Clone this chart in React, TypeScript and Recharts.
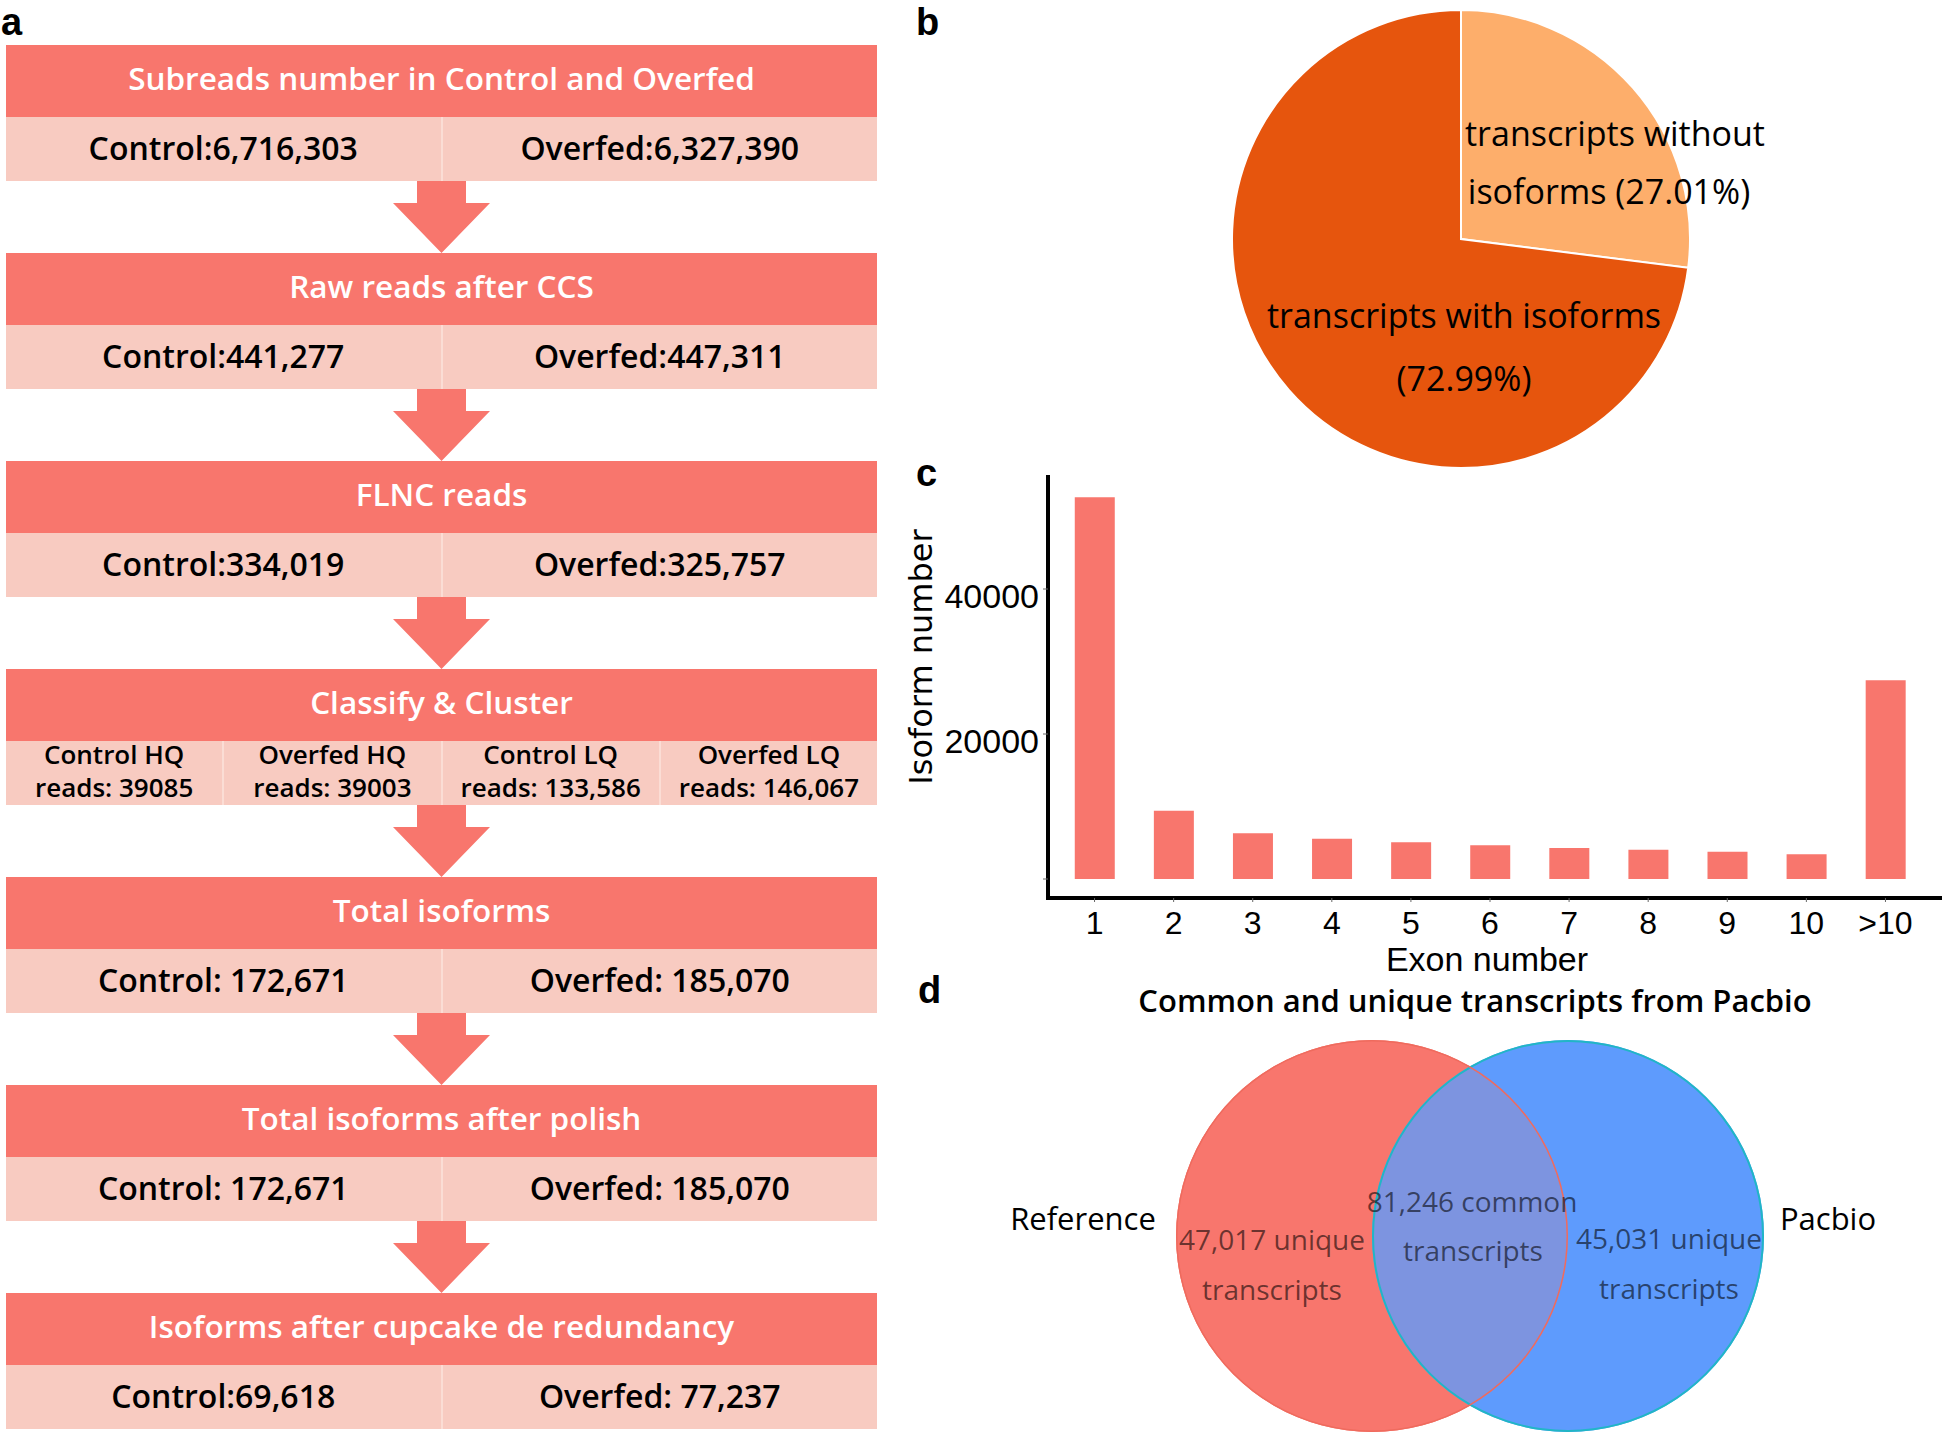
import React from "react";
import { BarChart, Bar, XAxis, YAxis, PieChart, Pie, Cell } from "recharts";

const FONT = "'Open Sans', 'Noto Sans', sans-serif";
const AXIS_FONT = "'Liberation Sans', Arial, sans-serif";
const RED = "#F8766D";
const PINK = "#F8CBC1";

// a: pipeline steps
const stepTitles = [
  "Subreads number in Control and Overfed",
  "Raw reads after CCS",
  "FLNC reads",
  "Classify & Cluster",
  "Total isoforms",
  "Total isoforms after polish",
  "Isoforms after cupcake de redundancy",
];
const stepCells = [
  ["Control:6,716,303", "Overfed:6,327,390"],
  ["Control:441,277", "Overfed:447,311"],
  ["Control:334,019", "Overfed:325,757"],
  [
    "Control HQ\nreads: 39085",
    "Overfed HQ\nreads: 39003",
    "Control LQ\nreads: 133,586",
    "Overfed LQ\nreads: 146,067",
  ],
  ["Control: 172,671", "Overfed: 185,070"],
  ["Control: 172,671", "Overfed: 185,070"],
  ["Control:69,618", "Overfed: 77,237"],
];

// b: transcripts with / without isoforms
const isoformGroups = ["transcripts without isoforms", "transcripts with isoforms"];
const isoformShares = [27.01, 72.99];
const isoformColors = ["#FDAE6B", "#E6550D"];

// c: isoforms by exon number
const exonLabels = ["1", "2", "3", "4", "5", "6", "7", "8", "9", "10", ">10"];
const isoformCounts = [52650, 9420, 6300, 5560, 5060, 4650, 4280, 4040, 3770, 3410, 27410];
const isoformTicks = [0, 20000, 40000];

// d: venn
const vennNames = ["Reference", "Pacbio"];
const vennUnique = [47017, 45031];
const vennCommon = 81246;

const fmt = (n: number) => n.toLocaleString("en-US");

const STEP = 208;

function Arrow({ top }: { top: number }) {
  return (
    <svg width={97} height={72} style={{ position: "absolute", left: 387, top }}>
      <polygon points="24,0 73,0 73,22 97,22 48.5,72 0,22 24,22" fill={RED} />
    </svg>
  );
}

function Flowchart() {
  return (
    <div style={{ position: "absolute", left: 6, top: 45, width: 871 }}>
      {stepTitles.map((title, i) => (
        <div key={i} style={{ position: "absolute", left: 0, top: i * STEP, width: 871 }}>
          <div
            style={{
              height: 72,
              boxSizing: "border-box",
              paddingBottom: 7,
              background: RED,
              color: "#fff",
              fontSize: 31.5,
              fontWeight: 600,
              display: "flex",
              alignItems: "center",
              justifyContent: "center",
            }}
          >
            {title}
          </div>
          <div style={{ display: "flex", height: 64, background: PINK }}>
            {stepCells[i].map((c, j) => (
              <div
                key={j}
                style={{
                  flex: 1,
                  boxSizing: "border-box",
                  paddingBottom: 4,
                  borderLeft: j ? "2px solid #FBDDD5" : "none",
                  display: "flex",
                  alignItems: "center",
                  justifyContent: "center",
                  textAlign: "center",
                  whiteSpace: "pre-line",
                  fontSize: stepCells[i].length > 2 ? 26 : 32,
                  lineHeight: stepCells[i].length > 2 ? "33px" : "normal",
                  fontWeight: 600,
                  color: "#000",
                }}
              >
                {c}
              </div>
            ))}
          </div>
          {i < stepTitles.length - 1 && <Arrow top={136} />}
        </div>
      ))}
    </div>
  );
}

const pieData = isoformGroups.map((name, i) => ({ name, value: isoformShares[i] }));
const PIE_CX = 276;
const PIE_CY = 234;
const pieLabelPos = [
  [
    [154, -106],
    [148, -48],
  ],
  [
    [3, 76],
    [3, 139],
  ],
];

const renderPieLabel = (props: any) => {
  const { index } = props;
  const cx = props.cx ?? PIE_CX + 5;
  const cy = props.cy ?? PIE_CY + 5;
  const lines =
    index === 0
      ? ["transcripts without", `isoforms (${isoformShares[0].toFixed(2)}%)`]
      : ["transcripts with isoforms", `(${isoformShares[1].toFixed(2)}%)`];
  return (
    <g>
      {lines.map((t, k) => (
        <text
          key={k}
          x={cx + pieLabelPos[index][k][0]}
          y={cy + pieLabelPos[index][k][1]}
          textAnchor="middle"
          dominantBaseline="central"
          fontSize={34}
          fontFamily={FONT}
          fill="#000"
        >
          {t}
        </text>
      ))}
    </g>
  );
};

const barData = exonLabels.map((exon, i) => ({ exon, count: isoformCounts[i] }));

function YTick(props: any) {
  const { x, y, payload } = props;
  if (payload.value === 0) return <g />;
  return (
    <text x={x} y={y + 7} dy="0.35em" textAnchor="end" fontSize={34} fontFamily={AXIS_FONT} fill="#000">
      {payload.value}
    </text>
  );
}

function XTick(props: any) {
  const { x, y, payload } = props;
  return (
    <text x={x} y={y} dy="0.71em" textAnchor="middle" fontSize={32} fontFamily={AXIS_FONT} fill="#000">
      {payload.value}
    </text>
  );
}

function YLabel() {
  return (
    <text
      x={21}
      y={197}
      transform="rotate(-90, 21, 197)"
      textAnchor="middle"
      dominantBaseline="central"
      fontSize={32}
      fontFamily="'DejaVu Sans', sans-serif"
      fill="#000"
    >
      Isoform number
    </text>
  );
}

function XLabel() {
  return (
    <text x={587} y={511} textAnchor="middle" fontSize={34} fontFamily={AXIS_FONT} fill="#000">
      Exon number
    </text>
  );
}

const VENN_R = 196;
const VENN_CY = 271;
const VENN_CX = [367, 563];
const vennData = vennNames.map((name, i) => [{ name, value: vennUnique[i] + vennCommon }]);

const renderVennText = (props: any) => {
  if (props.index !== 0) return <g />;
  const dim = { fill: "#000", fillOpacity: 0.58, fontSize: 28, fontFamily: FONT };
  // pie cx/cy are shifted by the chart's 5px margin
  const rx = VENN_CX[0] + 5;
  const bx = VENN_CX[1] + 5;
  const cy = VENN_CY + 5;
  const mid = (rx + bx) / 2;
  return (
    <g>
      <text x={475} y={40} textAnchor="middle" dominantBaseline="central" fontSize={31} fontWeight={600} fontFamily={FONT} fill="#000">
        Common and unique transcripts from Pacbio
      </text>
      <text x={83} y={cy - 18} textAnchor="middle" dominantBaseline="central" fontSize={31} fontFamily={FONT} fill="#000">
        {vennNames[0]}
      </text>
      <text x={828} y={cy - 18} textAnchor="middle" dominantBaseline="central" fontSize={31} fontFamily={FONT} fill="#000">
        {vennNames[1]}
      </text>
      <text x={rx - 100} y={cy + 3} textAnchor="middle" dominantBaseline="central" {...dim}>
        {`${fmt(vennUnique[0])} unique`}
      </text>
      <text x={rx - 100} y={cy + 53} textAnchor="middle" dominantBaseline="central" {...dim}>
        transcripts
      </text>
      <text x={mid + 2} y={cy - 35} textAnchor="middle" dominantBaseline="central" {...dim}>
        {`${fmt(vennCommon)} common`}
      </text>
      <text x={mid + 3} y={cy + 14} textAnchor="middle" dominantBaseline="central" {...dim}>
        transcripts
      </text>
      <text x={bx + 101} y={cy + 2} textAnchor="middle" dominantBaseline="central" {...dim}>
        {`${fmt(vennUnique[1])} unique`}
      </text>
      <text x={bx + 101} y={cy + 52} textAnchor="middle" dominantBaseline="central" {...dim}>
        transcripts
      </text>
    </g>
  );
};

const letterStyle: React.CSSProperties = {
  position: "absolute",
  fontFamily: AXIS_FONT,
  fontSize: 38,
  lineHeight: "normal",
  fontWeight: 700,
  color: "#000",
};

export default function App() {
  return (
    <div
      style={{
        position: "absolute",
        left: 0,
        top: 0,
        width: 1944,
        height: 1436,
        overflow: "hidden",
        background: "#fff",
        fontFamily: FONT,
      }}
    >
      <div style={{ ...letterStyle, left: 1, top: 1 }}>a</div>
      <div style={{ ...letterStyle, left: 916, top: 1 }}>b</div>
      <div style={{ ...letterStyle, left: 916, top: 452 }}>c</div>
      <div style={{ ...letterStyle, left: 918, top: 969 }}>d</div>

      <Flowchart />

      <div style={{ position: "absolute", left: 1180, top: 0 }}>
        <PieChart width={764} height={480}>
          <Pie
            data={pieData}
            dataKey="value"
            cx={PIE_CX}
            cy={PIE_CY}
            outerRadius={229}
            startAngle={90}
            endAngle={-270}
            stroke="#fff"
            strokeWidth={2}
            label={renderPieLabel}
            labelLine={false}
            isAnimationActive={false}
          >
            {pieData.map((d, i) => (
              <Cell key={d.name} fill={isoformColors[i]} />
            ))}
          </Pie>
        </PieChart>
      </div>

      <div style={{ position: "absolute", left: 900, top: 460 }}>
        <BarChart
          width={1044}
          height={520}
          data={barData}
          margin={{ top: 17, right: 4, bottom: 2, left: 0 }}
          barCategoryGap="25%"
        >
          <XAxis
            dataKey="exon"
            padding={{ left: 7, right: 15 }}
            height={80}
            axisLine={{ stroke: "#000", strokeWidth: 4, strokeLinecap: "square" }}
            tickLine={{ stroke: "#666" }}
            tickSize={4}
            tickMargin={9}
            tick={<XTick />}
            interval={0}
            label={<XLabel />}
          />
          <YAxis
            type="number"
            width={148}
            domain={[-2620, 55450]}
            ticks={isoformTicks}
            axisLine={{ stroke: "#000", strokeWidth: 4, strokeLinecap: "square" }}
            tickLine={{ stroke: "#666" }}
            tickSize={5}
            tickMargin={4}
            tick={<YTick />}
            label={<YLabel />}
          />
          <Bar dataKey="count" fill={RED} isAnimationActive={false} />
        </BarChart>
      </div>

      <div style={{ position: "absolute", left: 1000, top: 960 }}>
        <PieChart width={944} height={476}>
          <Pie data={vennData[0]} dataKey="value" cx={VENN_CX[0]} cy={VENN_CY} outerRadius={VENN_R} startAngle={90} endAngle={-270} fill={RED} stroke="none" isAnimationActive={false} />
          <Pie data={vennData[1]} dataKey="value" cx={VENN_CX[1]} cy={VENN_CY} outerRadius={VENN_R} startAngle={90} endAngle={-270} fill="#5E9BFD" stroke="none" isAnimationActive={false} />
          <Pie data={vennData[0]} dataKey="value" cx={VENN_CX[0]} cy={VENN_CY} outerRadius={VENN_R} startAngle={90} endAngle={-270} fill={RED} fillOpacity={0.2} stroke="none" isAnimationActive={false} />
          <Pie data={vennData[1]} dataKey="value" cx={VENN_CX[1]} cy={VENN_CY} innerRadius={VENN_R - 2} outerRadius={VENN_R} startAngle={90} endAngle={-270} fill="#21B6C6" stroke="none" isAnimationActive={false} />
          <Pie
            data={vennData[0]}
            dataKey="value"
            cx={VENN_CX[0]}
            cy={VENN_CY}
            innerRadius={VENN_R - 1.5}
            outerRadius={VENN_R}
            startAngle={90}
            endAngle={-270}
            fill="#EF6B5E"
            stroke="none"
            label={renderVennText}
            labelLine={false}
            isAnimationActive={false}
          />
        </PieChart>
      </div>
    </div>
  );
}
